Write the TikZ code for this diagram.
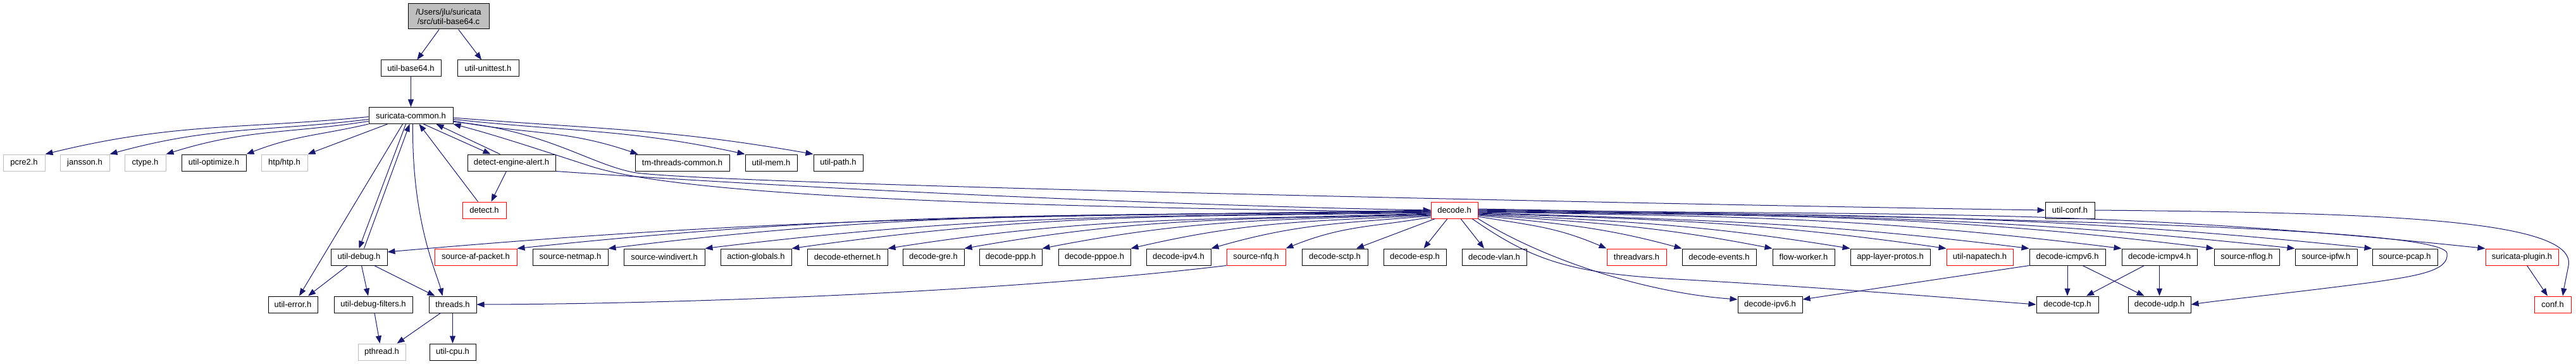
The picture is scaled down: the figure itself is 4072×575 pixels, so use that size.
\documentclass[tikz,border=0pt]{standalone}
\usepackage{fontspec}
\setmainfont{Liberation Sans}
\usetikzlibrary{arrows.meta,calc}
\definecolor{edgec}{HTML}{191970}
\definecolor{greyb}{HTML}{BFBFBF}
\begin{document}
\begin{tikzpicture}[x=1pt,y=1pt,
  box/.style={draw=black, line width=1pt, fill=white, minimum height=26pt, inner sep=0pt, font={\fontsize{13pt}{15pt}\selectfont}, text=black},
  gbox/.style={box, draw=greyb},
  rbox/.style={box, draw=red},
  edge/.style={draw=edgec, line width=1pt, -{Triangle[length=12pt,width=9pt]}}]
\useasboundingbox (0,0) rectangle (4072,-575);
% rank 0
\node[box, fill=greyb, minimum width=128pt, minimum height=40pt, align=center] (root) at (709,-26) {/Users/jlu/suricata\\/src/util-base64.c};
% rank 1
\node[box, minimum width=95pt] (ub64) at (649.5,-108) {util-base64.h};
\node[box, minimum width=97pt] (uut) at (771.5,-108) {util-unittest.h};
% rank 2
\node[box, minimum width=133pt] (sc) at (649.5,-182.5) {suricata-common.h};
% rank 3
\node[gbox, minimum width=66pt] (pcre2) at (38,-257) {pcre2.h};
\node[gbox, minimum width=78pt] (jansson) at (134,-257) {jansson.h};
\node[gbox, minimum width=65pt] (ctype) at (229.5,-257) {ctype.h};
\node[box, minimum width=102pt] (uopt) at (338,-257) {util-optimize.h};
\node[gbox, minimum width=73pt] (htp) at (449.5,-257) {htp/htp.h};
\node[box, minimum width=139pt] (dea) at (808.5,-257) {detect-engine-alert.h};
\node[box, minimum width=149pt] (tmtc) at (1078.5,-257) {tm-threads-common.h};
\node[box, minimum width=82pt] (umem) at (1219,-257) {util-mem.h};
\node[box, minimum width=78pt] (upath) at (1325,-257) {util-path.h};
% rank 4
\node[rbox, minimum width=69pt] (detect) at (765.5,-332) {detect.h};
\node[rbox, minimum width=74pt] (decode) at (2299,-332) {decode.h};
\node[box, minimum width=78pt] (uconf) at (3272,-332) {util-conf.h};
% rank 5
\node[box, minimum width=89pt] (udebug) at (567.5,-406) {util-debug.h};
\node[rbox, minimum width=130pt] (afp) at (752,-406) {source-af-packet.h};
\node[box, minimum width=119pt] (netmap) at (901.5,-406) {source-netmap.h};
\node[box, minimum width=128pt] (windivert) at (1050,-406) {source-windivert.h};
\node[box, minimum width=112pt] (actglob) at (1195,-406) {action-globals.h};
\node[box, minimum width=127pt] (eth) at (1339.5,-406) {decode-ethernet.h};
\node[box, minimum width=97pt] (gre) at (1475.5,-406) {decode-gre.h};
\node[box, minimum width=99pt] (ppp) at (1597.5,-406) {decode-ppp.h};
\node[box, minimum width=114pt] (pppoe) at (1730,-406) {decode-pppoe.h};
\node[box, minimum width=102pt] (ipv4) at (1863,-406) {decode-ipv4.h};
\node[rbox, minimum width=93pt] (nfq) at (1985.5,-406) {source-nfq.h};
\node[box, minimum width=104pt] (sctp) at (2110,-406) {decode-sctp.h};
\node[box, minimum width=99pt] (esp) at (2236.5,-406) {decode-esp.h};
\node[box, minimum width=102pt] (vlan) at (2362,-406) {decode-vlan.h};
\node[rbox, minimum width=94pt] (tvars) at (2587,-406) {threadvars.h};
\node[box, minimum width=117pt] (devents) at (2717.5,-406) {decode-events.h};
\node[box, minimum width=98pt] (fworker) at (2851,-406) {flow-worker.h};
\node[box, minimum width=126pt] (alp) at (2988,-406) {app-layer-protos.h};
\node[rbox, minimum width=105pt] (napatech) at (3129.5,-406) {util-napatech.h};
\node[box, minimum width=120pt] (icmpv6) at (3268,-406) {decode-icmpv6.h};
\node[box, minimum width=119pt] (icmpv4) at (3413.5,-406) {decode-icmpv4.h};
\node[box, minimum width=103pt] (nflog) at (3551.5,-406) {source-nflog.h};
\node[box, minimum width=98pt] (ipfw) at (3677,-406) {source-ipfw.h};
\node[box, minimum width=103pt] (pcap) at (3801.5,-406) {source-pcap.h};
\node[rbox, minimum width=115pt] (splugin) at (3986.5,-406) {suricata-plugin.h};
% rank 6
\node[box, minimum width=78pt] (uerror) at (463,-481) {util-error.h};
\node[box, minimum width=124pt] (udf) at (590,-481) {util-debug-filters.h};
\node[box, minimum width=75pt] (threads) at (715.5,-481) {threads.h};
\node[box, minimum width=102pt] (ipv6) at (2798,-481) {decode-ipv6.h};
\node[box, minimum width=98pt] (tcp) at (3268,-481) {decode-tcp.h};
\node[box, minimum width=99pt] (udp) at (3413.5,-481) {decode-udp.h};
\node[rbox, minimum width=58pt] (conf) at (4035,-481) {conf.h};
% rank 7
\node[gbox, minimum width=75pt] (pthread) at (603.5,-556) {pthread.h};
\node[box, minimum width=73pt] (ucpu) at (715.5,-556) {util-cpu.h};

% ---- edges ----
\draw[edge] (root) -- (ub64);
\draw[edge] (root) -- (uut);
\draw[edge] (ub64) -- (sc);
% sc -> rank 3 left
\draw[edge] ([yshift=-2pt]sc.west) .. controls +(-205,-20) and +(205,50) .. (pcre2.north east);
\draw[edge] ([yshift=-6pt]sc.west) .. controls +(-164,-20) and +(164,45) .. (jansson.north east);
\draw[edge] ([yshift=-9pt]sc.west) .. controls +(-128,-20) and +(128,40) .. (ctype.north east);
\draw[edge] (sc.south west) .. controls +(-78,-18) and +(78,30) .. (uopt.north east);
\draw[edge] ([xshift=-37pt]sc.south) -- (htp.north east);
% sc -> rank 3 right
\draw[edge] ([yshift=-3.5pt]sc.east) .. controls +(228,-18) and +(-228,40) .. (upath.north west);
\draw[edge] ([yshift=-6pt]sc.east) .. controls +(185,-20) and +(-185,40) .. (umem.north west);
\draw[edge] ([yshift=-8.5pt]sc.east) .. controls +(117,-22) and +(-117,40) .. ([xshift=5pt]tmtc.north west);
% detect-engine-alert
\draw[edge] ([xshift=20pt]sc.south) -- ([xshift=-33pt]dea.north);
\draw[edge] ([xshift=-18pt]dea.north) -- ([xshift=40pt]sc.south);
\draw[edge] ([xshift=-8pt]dea.south) -- ([xshift=11pt]detect.north);
\draw[edge] ([xshift=-10pt]detect.north) -- ([xshift=13pt]sc.south);
\draw[edge] (dea.south east) .. controls (1300,-300) and (1900,-326) .. (decode.west);
% decode -> sc (back edge)
\draw[edge] ([yshift=-3pt]decode.west) .. controls (1700,-328) and (1100,-315) .. (935,-263) .. controls (885,-247) and (790,-215) .. (sc.south east);
% sc -> util-conf
\draw[edge] ([yshift=-10pt]sc.east) .. controls (860,-205) and (930,-258) .. (1000,-272) .. controls (1100,-292) and (2800,-326) .. (uconf.west);
% sc -> lower
\draw[edge] ([xshift=-13pt]sc.south) -- ([xshift=10pt]uerror.north);
\draw[edge] ([xshift=-8pt]sc.south) -- (udebug.north);
\draw[edge] ([xshift=8pt]udebug.north) -- ([xshift=-2pt]sc.south);
\draw[edge] ([xshift=3pt]sc.south) .. controls (651,-350) and (690,-430) .. ([xshift=-16pt]threads.north);
% util-debug and threads
\draw[edge] ([xshift=-18pt]udebug.south) -- ([xshift=24pt]uerror.north);
\draw[edge] ([xshift=4pt]udebug.south) -- ([xshift=-8pt]udf.north);
\draw[edge] ([xshift=24pt]udebug.south) -- ([xshift=-28pt]threads.north);
\draw[edge] ([xshift=2pt]udf.south) -- ([xshift=-3pt]pthread.north);
\draw[edge] ([xshift=-19pt]threads.south) -- ([xshift=24pt]pthread.north);
\draw[edge] (threads.south) -- (ucpu.north);
\draw[edge] (nfq.south west) .. controls (1600,-460) and (1100,-480) .. (threads.east);
% decode -> left fan
\draw[edge] (decode.west) .. controls +(-660,-12) and +(660,58) .. ([yshift=8pt]udebug.east);
\draw[edge] ([yshift=-1pt]decode.west) .. controls +(-578,-10) and +(578,61) .. (afp.north east);
\draw[edge] ([yshift=-2pt]decode.west) .. controls +(-520,-9) and +(520,64) .. (netmap.north east);
\draw[edge] ([yshift=-3pt]decode.west) .. controls +(-459,-8) and +(459,56) .. (windivert.north east);
\draw[edge] ([yshift=-4pt]decode.west) .. controls +(-404,-7) and +(404,57) .. (actglob.north east);
\draw[edge] ([yshift=-5pt]decode.west) .. controls +(-344,-12) and +(344,54) .. (eth.north east);
\draw[edge] ([yshift=-6pt]decode.west) .. controls +(-295,-10) and +(295,52) .. (gre.north east);
\draw[edge] ([yshift=-7pt]decode.west) .. controls +(-246,-9) and +(246,48) .. (ppp.north east);
\draw[edge] ([yshift=-8pt]decode.west) .. controls +(-190,-10) and +(190,44) .. (pppoe.north east);
\draw[edge] ([yshift=-9pt]decode.west) .. controls +(-139,-12) and +(139,40) .. (ipv4.north east);
\draw[edge] ([yshift=-11pt]decode.west) .. controls +(-92,-16) and +(92,37) .. (nfq.north east);
% decode -> below
\draw[edge] ([xshift=7pt]decode.south west) -- ([xshift=34pt]sctp.north);
\draw[edge] ([xshift=-11pt]decode.south) -- ([xshift=14pt]esp.north);
\draw[edge] ([xshift=10pt]decode.south) -- ([xshift=-16pt]vlan.north);
\draw[edge] ([xshift=28pt]decode.south) .. controls (2420,-410) and (2480,-432) .. (2650,-441) .. controls (2900,-455) and (3100,-472) .. (tcp.west);
\draw[edge] (decode.south east) .. controls (2440,-410) and (2600,-462) .. ([yshift=8pt]ipv6.west);
% decode -> right fan
\draw[edge] ([yshift=-10pt]decode.east) .. controls +(82,-14) and +(-82,35) .. (tvars.north west);
\draw[edge] ([yshift=-8pt]decode.east) .. controls +(129,-14) and +(-129,35) .. (devents.north west);
\draw[edge] ([yshift=-7pt]decode.east) .. controls +(186,-13) and +(-186,36) .. (fworker.north west);
\draw[edge] ([yshift=-6pt]decode.east) .. controls +(236,-12) and +(-236,38) .. (alp.north west);
\draw[edge] ([yshift=-5pt]decode.east) .. controls +(296,-10) and +(-296,42) .. (napatech.north west);
\draw[edge] ([yshift=-4pt]decode.east) .. controls +(349,-12) and +(-349,43) .. (icmpv6.north west);
\draw[edge] ([yshift=-3pt]decode.east) .. controls +(407,-7) and +(-407,50) .. (icmpv4.north west);
\draw[edge] ([yshift=-2pt]decode.east) .. controls +(466,-8) and +(-466,57) .. (nflog.north west);
\draw[edge] ([yshift=-1pt]decode.east) .. controls +(517,-9) and +(-517,55) .. (ipfw.north west);
\draw[edge] (decode.east) .. controls +(566,-10) and +(-566,59) .. (pcap.north west);
\draw[edge] ([yshift=1pt]decode.east) .. controls +(637,-11) and +(-637,67) .. (splugin.north west);
\draw[edge] ([yshift=2pt]decode.east) .. controls (3200,-345) and (3862,-360) .. (3868,-400) .. controls (3872,-428) and (3820,-436) .. (3750,-446) .. controls (3620,-463) and (3520,-473) .. (udp.east);
% icmp
\draw[edge] (icmpv6.south west) -- ([yshift=8pt]ipv6.east);
\draw[edge] (icmpv6.south) -- (tcp.north);
\draw[edge] ([xshift=24pt]icmpv6.south) -- ([xshift=-24pt]udp.north);
\draw[edge] ([xshift=-24pt]icmpv4.south) -- ([xshift=30pt]tcp.north);
\draw[edge] (icmpv4.south) -- (udp.north);
% conf
\draw[edge] ([xshift=8pt]splugin.south) -- ([xshift=-8pt]conf.north);
\draw[edge] (uconf.east) .. controls (3750,-336) and (4075,-345) .. (4060,-420) .. controls (4056,-440) and (4053,-455) .. ([xshift=16pt]conf.north);
\end{tikzpicture}
\end{document}
